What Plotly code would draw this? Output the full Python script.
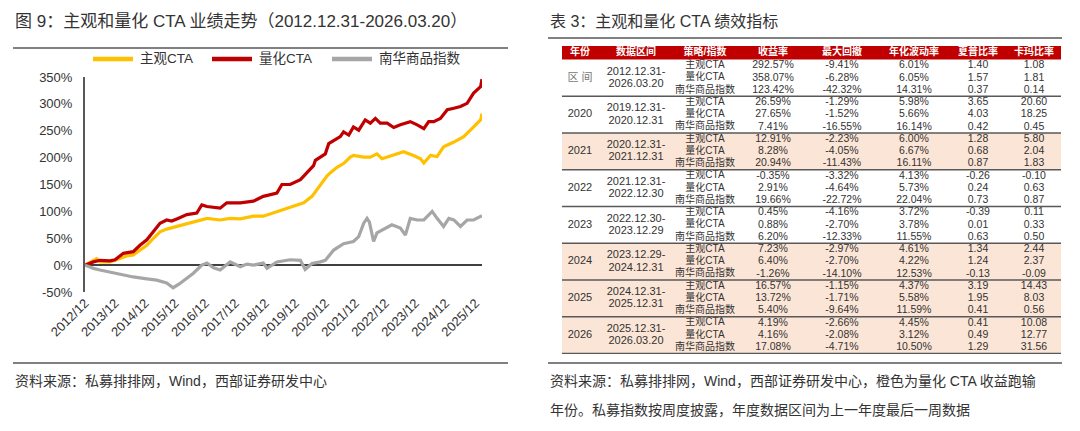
import plotly.graph_objects as go

W, H = 1080, 431
# the page body adds an 8px offset; layout positions below are in screen pixels
OFF = 8

# ---------------- line chart data ----------------
SERIES_NAMES = ["主观CTA", "量化CTA", "南华商品指数"]

SUBJ_DATES = ["2012-12-31", "2013-05-22", "2013-07-01", "2013-10-30", "2013-12-31", "2014-05-22",
              "2014-08-10", "2014-10-30", "2015-01-22", "2015-04-12", "2015-07-01", "2015-09-20",
              "2016-01-22", "2016-05-22", "2016-10-30", "2017-01-22", "2017-07-01", "2017-10-30",
              "2018-03-03", "2018-08-10", "2018-12-08", "2019-04-12", "2019-08-10", "2019-12-08",
              "2020-04-12", "2020-07-22", "2020-09-20", "2020-11-20", "2021-01-22", "2021-03-03",
              "2021-05-22", "2021-08-10", "2021-10-30", "2021-12-08", "2022-04-12", "2022-07-01",
              "2022-09-20", "2022-11-20", "2023-03-20", "2023-08-10", "2023-12-08", "2024-03-03",
              "2024-04-12", "2024-07-01", "2024-09-20", "2024-12-08", "2025-04-12", "2025-08-10",
              "2025-10-30", "2026-01-22", "2026-03-03", "2026-03-20"]
SUBJ_VALUES = [0, 12, 6, 6, 9, 17,
               19, 28, 37, 50, 62, 67,
               72, 78, 84, 87, 84, 87,
               86, 91, 91, 97, 103, 109,
               116, 128, 141, 153, 166, 172,
               182, 189, 201, 204, 201, 201,
               207, 198, 204, 211, 204, 198,
               190, 204, 202, 220, 229, 239,
               251, 264, 270, 282]

QUANT_DATES = ["2012-12-31", "2013-04-12", "2013-07-01", "2013-10-30", "2013-12-31", "2014-04-12",
               "2014-08-10", "2014-10-30", "2015-01-22", "2015-04-30", "2015-07-01", "2015-09-20",
               "2015-11-20", "2016-01-22", "2016-05-22", "2016-09-20", "2016-11-20", "2017-01-22",
               "2017-07-01", "2017-09-20", "2018-03-03", "2018-08-10", "2018-12-08", "2019-05-22",
               "2019-07-22", "2019-10-30", "2020-03-03", "2020-05-22", "2020-08-10", "2020-09-01",
               "2020-10-30", "2020-12-31", "2021-02-10", "2021-04-12", "2021-07-01", "2021-08-10",
               "2021-10-12", "2021-12-08", "2022-02-10", "2022-04-30", "2022-07-01", "2022-09-01",
               "2022-10-30", "2023-01-22", "2023-04-12", "2023-07-01", "2023-10-30", "2024-01-22",
               "2024-04-12", "2024-06-10", "2024-08-10", "2024-10-30", "2025-01-22", "2025-04-12",
               "2025-07-01", "2025-09-20", "2025-12-08", "2026-03-03", "2026-03-20"]
QUANT_VALUES = [0, 6, 9, 8, 10, 22,
                25, 37, 47, 65, 78, 84,
                82, 86, 94, 97, 112, 109,
                106, 116, 116, 119, 128, 134,
                150, 150, 159, 172, 185, 195,
                201, 207, 226, 232, 239, 248,
                242, 257, 251, 270, 264, 273,
                264, 264, 256, 261, 267, 261,
                254, 267, 267, 273, 289, 292,
                295, 301, 320, 332, 346]

NANHUA_DATES = ["2012-12-31", "2013-04-12", "2013-07-01", "2013-12-31", "2014-04-12", "2014-08-10",
                "2014-12-31", "2015-05-22", "2015-09-20", "2015-12-08", "2016-02-20", "2016-05-22",
                "2016-08-10", "2016-10-30", "2016-11-20", "2017-01-22", "2017-04-12", "2017-07-01",
                "2017-10-30", "2018-03-03", "2018-05-22", "2018-08-10", "2018-12-08", "2019-01-22",
                "2019-05-22", "2019-10-30", "2020-03-03", "2020-04-30", "2020-07-22", "2020-10-30",
                "2020-12-31", "2021-04-12", "2021-08-10", "2021-12-08", "2022-02-10", "2022-04-12",
                "2022-05-22", "2022-06-20", "2022-08-10", "2022-09-20", "2022-11-20", "2023-03-20",
                "2023-07-01", "2023-09-01", "2023-10-30", "2024-01-22", "2024-04-12", "2024-07-22",
                "2024-09-20", "2024-12-08", "2025-02-10", "2025-04-12", "2025-07-01", "2025-09-20",
                "2025-12-08", "2026-03-20"]
NANHUA_VALUES = [0, -6, -9, -15, -17, -22,
                 -25, -28, -33, -42, -35, -25,
                 -15, -3, 0, 4, -5, -9,
                 6, -3, 2, 0, 4, -6,
                 6, 10, 9, -8, 3, 6,
                 9, 28, 40, 44, 53, 78,
                 87, 80, 44, 60, 65, 75,
                 69, 56, 87, 84, 84, 100,
                 87, 72, 87, 84, 72, 84,
                 84, 92]

X_TICK_DATES = ["2012-12-31", "2013-12-31", "2014-12-31", "2015-12-31", "2016-12-31", "2017-12-31",
                "2018-12-31", "2019-12-31", "2020-12-31", "2021-12-31", "2022-12-31", "2023-12-31",
                "2024-12-31", "2025-12-31"]
X_TICK_LABELS = ["2012/12", "2013/12", "2014/12", "2015/12", "2016/12", "2017/12", "2018/12",
                 "2019/12", "2020/12", "2021/12", "2022/12", "2023/12", "2024/12", "2025/12"]
Y_TICKS = [-50, 0, 50, 100, 150, 200, 250, 300, 350]

# ---------------- table data ----------------
TABLE_HEADERS = ["年份", "数据区间", "策略/指数", "收益率", "最大回撤", "年化波动率", "夏普比率", "卡玛比率"]
GROUP_LABELS = ["区 间", "2020", "2021", "2022", "2023", "2024", "2025", "2026"]
RANGE_START = ["2012.12.31-", "2019.12.31-", "2020.12.31-", "2021.12.31-", "2022.12.30-",
               "2023.12.29-", "2024.12.31-", "2025.12.31-"]
RANGE_END = ["2026.03.20", "2020.12.31", "2021.12.31", "2022.12.30", "2023.12.29",
             "2024.12.31", "2025.12.31", "2026.03.20"]
STRATEGIES = ["主观CTA", "量化CTA", "南华商品指数"]
RETURNS = [[292.57, 358.07, 123.42], [26.59, 27.65, 7.41], [12.91, 8.28, 20.94], [-0.35, 2.91, 19.66],
           [0.45, 0.88, 6.20], [7.23, 6.40, -1.26], [16.57, 13.72, 5.40], [4.19, 4.16, 17.08]]
MAX_DD = [[-9.41, -6.28, -42.32], [-1.29, -1.52, -16.55], [-2.23, -4.05, -11.43], [-3.32, -4.64, -22.72],
          [-4.16, -2.70, -12.33], [-2.97, -2.70, -14.10], [-1.15, -1.71, -9.64], [-2.66, -2.08, -4.71]]
VOLATILITY = [[6.01, 6.05, 14.31], [5.98, 5.66, 16.14], [6.00, 6.67, 16.11], [4.13, 5.73, 22.04],
              [3.72, 3.78, 11.55], [4.61, 4.22, 12.53], [4.37, 5.58, 11.59], [4.45, 3.12, 10.50]]
SHARPE = [[1.40, 1.57, 0.37], [3.65, 4.03, 0.42], [1.28, 0.68, 0.87], [-0.26, 0.24, 0.73],
          [-0.39, 0.01, 0.63], [1.34, 1.24, -0.13], [3.19, 1.95, 0.41], [0.41, 0.49, 1.29]]
CALMAR = [[1.08, 1.81, 0.14], [20.60, 18.25, 0.45], [5.80, 2.04, 1.83], [-0.10, 0.63, 0.87],
          [0.11, 0.33, 0.50], [2.44, 2.37, -0.09], [14.43, 8.03, 0.56], [10.08, 12.77, 31.56]]

# ---------------- styles / layout constants ----------------
FONT = "Liberation Sans, Arial, Noto Sans CJK SC, sans-serif"
TXT = "#333333"
COLORS = ["#FFC000", "#C00000", "#A6A6A6"]
HEADER_RED = "#C00000"
PEACH = "#FBE5D6"


def px(x):
    return (x - OFF) / W


def py(y):
    return 1 - (y - OFF) / H


fig = go.Figure()

series = [(SUBJ_DATES, SUBJ_VALUES), (QUANT_DATES, QUANT_VALUES), (NANHUA_DATES, NANHUA_VALUES)]
for (d, v), name, col in zip(series, SERIES_NAMES, COLORS):
    fig.add_trace(go.Scatter(x=d, y=v, mode="lines", name=name,
                             line=dict(color=col, width=3.2), showlegend=False,
                             xaxis="x", yaxis="y", hoverinfo="skip"))

all_dates = SUBJ_DATES + QUANT_DATES + NANHUA_DATES

# ---------------- table (on its own hidden axes, pixel-like units) ----------------
TBL_LEFT, TBL_RIGHT, TBL_TOP, TBL_BOTTOM = 562, 1061, 46, 354
HEADER_H = 13.5
ROW_H = 12.25
GROUP_H = 3 * ROW_H
COL_X = [580, 636, 705, 773, 842, 914, 978, 1034]


def fmt_pct(v):
    return f"{v:.2f}%"


def fmt_num(v):
    return f"{v:.2f}"


shapes = []
# header band
shapes.append(dict(type="rect", xref="x2", yref="y2", x0=TBL_LEFT, x1=TBL_RIGHT, y0=0, y1=HEADER_H,
                   fillcolor=HEADER_RED, line=dict(width=0), layer="below"))

hx, hy, ht = [], [], []
for c, h in enumerate(TABLE_HEADERS):
    hx.append(COL_X[c]); hy.append(HEADER_H / 2); ht.append(f"<b>{h}</b>")
fig.add_trace(go.Scatter(x=hx, y=hy, text=ht, mode="text", xaxis="x2", yaxis="y2",
                         textfont=dict(family=FONT, size=10, color="white"),
                         showlegend=False, hoverinfo="skip"))

gx, gy, gt, gc = [], [], [], []
sx, sy, st = [], [], []
nx, ny, nt = [], [], []
for g, label in enumerate(GROUP_LABELS):
    top = HEADER_H + g * GROUP_H
    # highlight years where quant CTA underperformed subjective CTA
    if g > 0 and RETURNS[g][1] < RETURNS[g][0]:
        shapes.append(dict(type="rect", xref="x2", yref="y2", x0=TBL_LEFT, x1=TBL_RIGHT,
                           y0=top, y1=top + GROUP_H, fillcolor=PEACH, line=dict(width=0), layer="below"))
    shapes.append(dict(type="line", xref="x2", yref="y2", x0=TBL_LEFT, x1=TBL_RIGHT,
                       y0=top + GROUP_H, y1=top + GROUP_H, line=dict(color="#595959", width=1.3)))
    gx.append(COL_X[0]); gy.append(top + GROUP_H / 2); gt.append(label)
    gc.append("#777777" if g == 0 else TXT)
    gx.append(COL_X[1]); gy.append(top + ROW_H); gt.append(RANGE_START[g]); gc.append(TXT)
    gx.append(COL_X[1]); gy.append(top + 2 * ROW_H); gt.append(RANGE_END[g]); gc.append(TXT)
    for r, strat in enumerate(STRATEGIES):
        yc = top + ROW_H * (r + 0.5)
        sx.append(COL_X[2]); sy.append(yc); st.append(strat)
        vals = [fmt_pct(RETURNS[g][r]), fmt_pct(MAX_DD[g][r]), fmt_pct(VOLATILITY[g][r]),
                fmt_num(SHARPE[g][r]), fmt_num(CALMAR[g][r])]
        for k, v in enumerate(vals):
            nx.append(COL_X[3 + k]); ny.append(yc); nt.append(v)

fig.add_trace(go.Scatter(x=gx, y=gy, text=gt, mode="text", xaxis="x2", yaxis="y2",
                         textfont=dict(family=FONT, size=11, color=gc),
                         showlegend=False, hoverinfo="skip"))
fig.add_trace(go.Scatter(x=sx, y=sy, text=st, mode="text", xaxis="x2", yaxis="y2",
                         textfont=dict(family=FONT, size=10, color=TXT),
                         showlegend=False, hoverinfo="skip"))
fig.add_trace(go.Scatter(x=nx, y=ny, text=nt, mode="text", xaxis="x2", yaxis="y2",
                         textfont=dict(family=FONT, size=10.5, color=TXT),
                         showlegend=False, hoverinfo="skip"))

# ---------------- decorations (paper coords) ----------------
def hline(x0, x1, y, color="#808080", width=1.8):
    shapes.append(dict(type="line", xref="paper", yref="paper", x0=px(x0), x1=px(x1),
                       y0=py(y), y1=py(y), line=dict(color=color, width=width)))


hline(13, 508, 48)
hline(548, 1062, 38)
hline(13, 508, 363)
hline(548, 1062, 363)

annotations = []


def text(x, y, s, size, color=TXT, anchor="left"):
    annotations.append(dict(x=px(x), y=py(y), xref="paper", yref="paper", text=s, showarrow=False,
                            xanchor=anchor, yanchor="middle",
                            font=dict(family=FONT, size=size, color=color)))


text(13, 21, "图 9：主观和量化 CTA 业绩走势（2012.12.31-2026.03.20）", 17)
text(548, 22, "表 3：主观和量化 CTA 绩效指标", 16)
text(13, 381, "资料来源：私募排排网，Wind，西部证券研发中心", 14)
text(548, 381, "资料来源：私募排排网，Wind，西部证券研发中心，橙色为量化 CTA 收益跑输", 14)
text(548, 410, "年份。私募指数按周度披露，年度数据区间为上一年度最后一周数据", 14)

# custom legend
LEG_X = [93, 212, 332]
for lx, name, col in zip(LEG_X, SERIES_NAMES, COLORS):
    shapes.append(dict(type="line", xref="paper", yref="paper", x0=px(lx), x1=px(lx + 40),
                       y0=py(59), y1=py(59), line=dict(color=col, width=4.5)))
    text(lx + 45, 59, name, 13.5)

fig.update_layout(
    width=W, height=H, autosize=False,
    margin=dict(l=0, r=0, t=0, b=0, pad=0),
    paper_bgcolor="white", plot_bgcolor="white",
    showlegend=False,
    shapes=shapes, annotations=annotations,
    xaxis=dict(domain=[px(85), px(482)], type="date", automargin=False,
               range=[min(all_dates), max(all_dates)],
               tickvals=X_TICK_DATES, ticktext=X_TICK_LABELS, tickangle=-45,
               showgrid=False, zeroline=False, showline=False, ticks="",
               tickfont=dict(family=FONT, size=13, color=TXT), fixedrange=True),
    yaxis=dict(domain=[py(292), py(77)], range=[-50, 350], tickvals=Y_TICKS, automargin=False,
               ticktext=[f"{v}%" for v in Y_TICKS],
               showgrid=False, zeroline=True, zerolinecolor="#404040", zerolinewidth=1.5,
               showline=True, linecolor="#595959", linewidth=2, ticks="",
               ticklabelstandoff=8,
               tickfont=dict(family=FONT, size=13, color=TXT), fixedrange=True),
    xaxis2=dict(domain=[px(TBL_LEFT), px(TBL_RIGHT)], range=[TBL_LEFT, TBL_RIGHT],
                visible=False, fixedrange=True, automargin=False),
    yaxis2=dict(domain=[py(TBL_BOTTOM), py(TBL_TOP)], range=[TBL_BOTTOM - TBL_TOP, 0],
                visible=False, fixedrange=True, automargin=False),
)

fig.write_html("out.html")
